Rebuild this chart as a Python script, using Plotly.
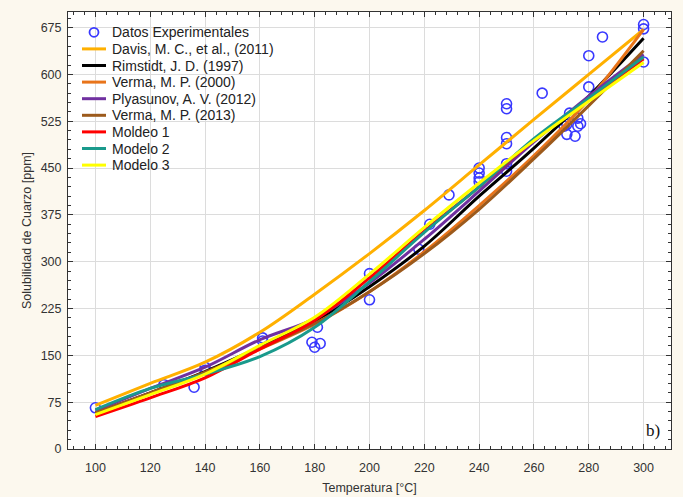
import plotly.graph_objects as go

# Experimental data
exp_T = [100, 125, 136, 140, 140, 161, 161, 179, 180, 182, 181, 200, 200,
         218, 222, 229, 240, 240, 240, 240, 250, 250, 250, 250, 250, 250,
         263, 271, 272, 273, 275, 276, 276, 277, 272, 280, 280, 285, 300, 300, 300]
exp_S = [66, 103, 99, 126, 131, 173, 178, 171, 163, 169, 195, 281, 239,
         320, 360, 407, 450, 442, 434, 428, 553, 545, 499, 489, 457, 445,
         570, 517, 504, 538, 501, 530, 517, 521, 520, 580, 630, 660, 680, 673, 620]

# Model curves
T = [100, 120, 140, 160, 180, 200, 220, 240, 260, 280, 300]
davis     = [70, 105, 139, 187, 248, 313, 382, 455, 528, 600, 672]
rimstidt  = [58, 90, 124, 163, 205, 260, 325, 405, 482, 565, 658]
verma2000 = [56, 88, 121, 160, 200, 252, 316, 390, 470, 560, 672]
plyasunov = [61, 97, 131, 175, 209, 266, 336, 413, 492, 565, 632]
verma2013 = [58, 90, 123, 161, 201, 252, 313, 384, 465, 550, 638]
moldeo1   = [52, 82, 114, 160, 206, 274, 349, 420, 495, 560, 625]
modelo2   = [63, 97, 120, 148, 195, 268, 347, 420, 497, 562, 628]
modelo3   = [55, 87, 120, 166, 211, 280, 355, 426, 494, 557, 619]

exp_name = "Datos Experimentales"
exp_color = "#3838FF"
series = [
    ("Davis, M. C., et al., (2011)", davis, "#FFB000"),
    ("Rimstidt, J. D. (1997)", rimstidt, "#000000"),
    ("Verma, M. P. (2000)", verma2000, "#E8741A"),
    ("Plyasunov, A. V. (2012)", plyasunov, "#7030A0"),
    ("Verma, M. P. (2013)", verma2013, "#9C5A1C"),
    ("Moldeo 1", moldeo1, "#FF0000"),
    ("Modelo 2", modelo2, "#1A9A8C"),
    ("Modelo 3", modelo3, "#FFFF00"),
]

FONT = "Liberation Sans, Arial, sans-serif"

fig = go.Figure()
fig.add_trace(go.Scatter(
    x=exp_T, y=exp_S, mode="markers", name=exp_name, showlegend=False,
    marker=dict(symbol="circle-open", size=10, color=exp_color,
                line=dict(width=1.6, color=exp_color))))
for name, vals, col in series:
    fig.add_trace(go.Scatter(x=T, y=vals, mode="lines", name=name, showlegend=False,
                             line=dict(color=col, width=3, shape="spline")))

# Custom compact legend (top-left, inside plot area)
W, H = 603.0, 437.0          # plot area size in px
row0, step = 20.3, 16.6       # px from top of plot area
sw_x0, sw_x1, txt_x = 14, 38, 42
def yfrac(i):
    return 1 - (row0 + i * step) / H
fig.add_shape(type="circle", xref="paper", yref="paper",
              xsizemode="pixel", ysizemode="pixel",
              xanchor=(sw_x0 + sw_x1) / 2 / W, yanchor=yfrac(0),
              x0=-4.5, x1=4.5, y0=-4.5, y1=4.5,
              line=dict(color=exp_color, width=1.8))
fig.add_annotation(x=txt_x / W, y=yfrac(0), xref="paper", yref="paper",
                   text=exp_name, showarrow=False, xanchor="left", yanchor="middle",
                   font=dict(family=FONT, size=14, color="#222"))
for i, (name, vals, col) in enumerate(series, start=1):
    fig.add_shape(type="line", xref="paper", yref="paper",
                  x0=sw_x0 / W, x1=sw_x1 / W, y0=yfrac(i), y1=yfrac(i),
                  line=dict(color=col, width=3))
    fig.add_annotation(x=txt_x / W, y=yfrac(i), xref="paper", yref="paper",
                       text=name, showarrow=False, xanchor="left", yanchor="middle",
                       font=dict(family=FONT, size=14, color="#222"))

fig.add_annotation(x=0.985, y=0.015, xref="paper", yref="paper",
                   text="b)", showarrow=False, xanchor="right", yanchor="bottom",
                   font=dict(family="Liberation Serif, Times New Roman, serif",
                             size=17, color="#111"))

axis_common = dict(showline=True, linecolor="#333", linewidth=1, mirror="ticks",
                   ticks="inside", ticklen=5, tickcolor="#333",
                   showgrid=True, gridcolor="#dcdcdc", gridwidth=1,
                   zeroline=False, automargin=False,
                   tickfont=dict(family=FONT, size=12.5, color="#333"))

fig.update_xaxes(range=[90, 310], tick0=100, dtick=20, ticklabelstandoff=7,
                 minor=dict(ticks="inside", ticklen=3, dtick=4, tick0=100,
                            tickcolor="#333", showgrid=False),
                 title=dict(text="Temperatura [°C]", standoff=9,
                            font=dict(family=FONT, size=12.5, color="#333")),
                 **axis_common)
fig.update_yaxes(range=[0, 700], tick0=0, dtick=75, ticklabelstandoff=3,
                 minor=dict(ticks="inside", ticklen=3, dtick=15, tick0=0,
                            tickcolor="#333", showgrid=False),
                 title=dict(text="Solubilidad de Cuarzo [ppm]", standoff=6,
                            font=dict(family=FONT, size=12.5, color="#333")),
                 **axis_common)

fig.update_layout(
    width=683, height=497,
    margin=dict(l=68, r=12, t=12, b=48),
    paper_bgcolor="#FCF8EE", plot_bgcolor="#FFFFFF",
    showlegend=False,
)

fig.write_html("out.html")
